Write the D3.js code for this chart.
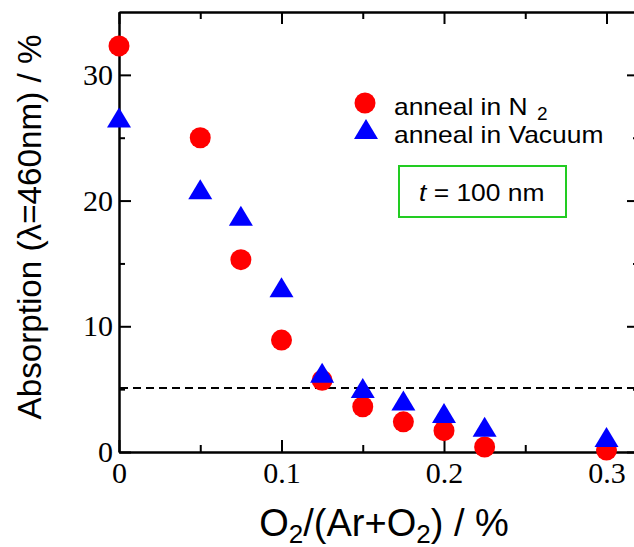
<!DOCTYPE html>
<html>
<head>
<meta charset="utf-8">
<script src="https://cdn.jsdelivr.net/npm/d3@7"></script>
<style>
body { margin: 0; background: #fff; }
svg { display: block; }
.axis path, .axis line { stroke: #000; stroke-width: 2px; }
.axis text { font-family: "Liberation Serif", "Times New Roman", serif; font-size: 30px; fill: #000; }
.sans { font-family: "Liberation Sans", Arial, Helvetica, sans-serif; fill: #000; }
</style>
</head>
<body>
<div class="chart"></div>
<script>
/* ---------------------------------------------------- +/
   Data
/+ ---------------------------------------------------- */
var ratios = [0, 0.05, 0.075, 0.1, 0.125, 0.15, 0.175, 0.2, 0.225, 0.3];
var annealN2 = [32.3, 25.0, 15.3, 8.9, 5.7, 3.6, 2.4, 1.7, 0.4, 0.15];
var annealVacuum = [26.6, 20.9, 18.8, 13.1, 6.3, 5.1, 4.1, 3.1, 2.0, 1.2];

var xMajorTicks = [0, 0.1, 0.2, 0.3];
var xMinorTicks = [0.05, 0.15, 0.25];
var yMajorTicks = [0, 10, 20, 30];
var yMinorTicks = [5, 15, 25];

var legendLabels = ["anneal in N", "anneal in Vacuum"];
var thresholdLevel = 5.1;

/**
 * Setup drawing area
 */
var width = 634;
var height = 547;
var plot = { left: 119, right: 639, top: 12, bottom: 452 };

var svg = d3.select(".chart").append("svg")
    .attr("width", width)
    .attr("height", height);

var x = d3.scaleLinear().domain([0, 0.32]).range([plot.left, plot.right]);
var y = d3.scaleLinear().domain([0, 35]).range([plot.bottom, plot.top]);

// Kaleidagraph-ish text is a bit wider than Arial
function stretch(sel, factor) {
    sel.each(function () {
        var len = this.getComputedTextLength();
        d3.select(this).attr("textLength", len * factor).attr("lengthAdjust", "spacingAndGlyphs");
    });
    return sel;
}

/**
 * Axes, ticks point inward on all four sides
 */
function addAxis(axisFn, scale, values, size, labels, transform) {
    var ax = axisFn(scale)
        .tickValues(values)
        .tickSizeInner(-size)
        .tickSizeOuter(0)
        .tickFormat(labels ? d3.format("") : "");
    var g = svg.append("g")
        .attr("class", "axis")
        .attr("transform", transform)
        .call(ax);
    return g;
}

var bottom = addAxis(d3.axisBottom, x, xMajorTicks, 12, true, "translate(0," + plot.bottom + ")");
bottom.call(function (g) { g.selectAll(".tick text").attr("y", 10); });
addAxis(d3.axisBottom, x, xMinorTicks, 7, false, "translate(0," + plot.bottom + ")");
addAxis(d3.axisTop, x, xMajorTicks, 12, false, "translate(0," + plot.top + ")");
addAxis(d3.axisTop, x, xMinorTicks, 7, false, "translate(0," + plot.top + ")");

var left = addAxis(d3.axisLeft, y, yMajorTicks, 12, true, "translate(" + plot.left + ",0)");
left.selectAll(".tick text").attr("x", -6);
addAxis(d3.axisLeft, y, yMinorTicks, 6, false, "translate(" + plot.left + ",0)");
addAxis(d3.axisRight, y, yMajorTicks, 12, false, "translate(" + plot.right + ",0)");
addAxis(d3.axisRight, y, yMinorTicks, 6, false, "translate(" + plot.right + ",0)");

// Dashed threshold line
svg.append("line")
    .attr("x1", plot.left + 1)
    .attr("x2", plot.right)
    .attr("y1", y(thresholdLevel))
    .attr("y2", y(thresholdLevel))
    .attr("stroke", "#000")
    .attr("stroke-width", 2)
    .attr("stroke-dasharray", "8,5");

/**
 * Markers: circles first, triangles on top
 */
var triangle = "M0,-10L12,10L-12,10Z";

svg.append("g").selectAll("circle")
    .data(ratios)
    .enter().append("circle")
    .attr("cx", function (d) { return x(d); })
    .attr("cy", function (d, i) { return y(annealN2[i]); })
    .attr("r", 10.5)
    .attr("fill", "#ff0000");

svg.append("g").selectAll("path")
    .data(ratios)
    .enter().append("path")
    .attr("d", triangle)
    .attr("transform", function (d, i) { return "translate(" + x(d) + "," + y(annealVacuum[i]) + ")"; })
    .attr("fill", "#0000ff");

/**
 * Legend
 */
var legend = svg.append("g").attr("class", "sans");

legend.append("circle")
    .attr("cx", 365).attr("cy", 103).attr("r", 10.5)
    .attr("fill", "#ff0000");
legend.append("path")
    .attr("d", triangle)
    .attr("transform", "translate(366,129)")
    .attr("fill", "#0000ff");

stretch(legend.append("text")
    .attr("x", 394).attr("y", 115)
    .attr("font-size", 24)
    .text(legendLabels[0]), 1.1);
legend.append("text")
    .attr("x", 537).attr("y", 120)
    .attr("font-size", 19)
    .text("2");
stretch(legend.append("text")
    .attr("x", 394).attr("y", 143)
    .attr("font-size", 24)
    .text(legendLabels[1]), 1.1);

// Thickness box
svg.append("rect")
    .attr("x", 399).attr("y", 166)
    .attr("width", 167).attr("height", 51)
    .attr("fill", "none")
    .attr("stroke", "#22cc22")
    .attr("stroke-width", 2);

var boxText = svg.append("text")
    .attr("class", "sans")
    .attr("x", 419).attr("y", 201)
    .attr("font-size", 24);
boxText.append("tspan").attr("font-style", "italic").text("t");
boxText.append("tspan").text(" = 100 nm");
stretch(boxText, 1.1);

/**
 * Axis titles
 */
var xTitle = svg.append("text")
    .attr("class", "sans")
    .attr("x", 384).attr("y", 536)
    .attr("text-anchor", "middle")
    .attr("font-size", 38);
xTitle.append("tspan").text("O");
xTitle.append("tspan").attr("font-size", 26).attr("dy", 7).text("2");
xTitle.append("tspan").attr("dy", -7).text("/(Ar+O");
xTitle.append("tspan").attr("font-size", 26).attr("dy", 7).text("2");
xTitle.append("tspan").attr("dy", -7).text(") / %");

svg.append("text")
    .attr("class", "sans")
    .attr("transform", "translate(41,227) rotate(-90)")
    .attr("text-anchor", "middle")
    .attr("font-size", 34)
    .attr("textLength", 385)
    .attr("lengthAdjust", "spacingAndGlyphs")
    .text("Absorption (\u03bb=460nm) / %");
</script>
</body>
</html>
